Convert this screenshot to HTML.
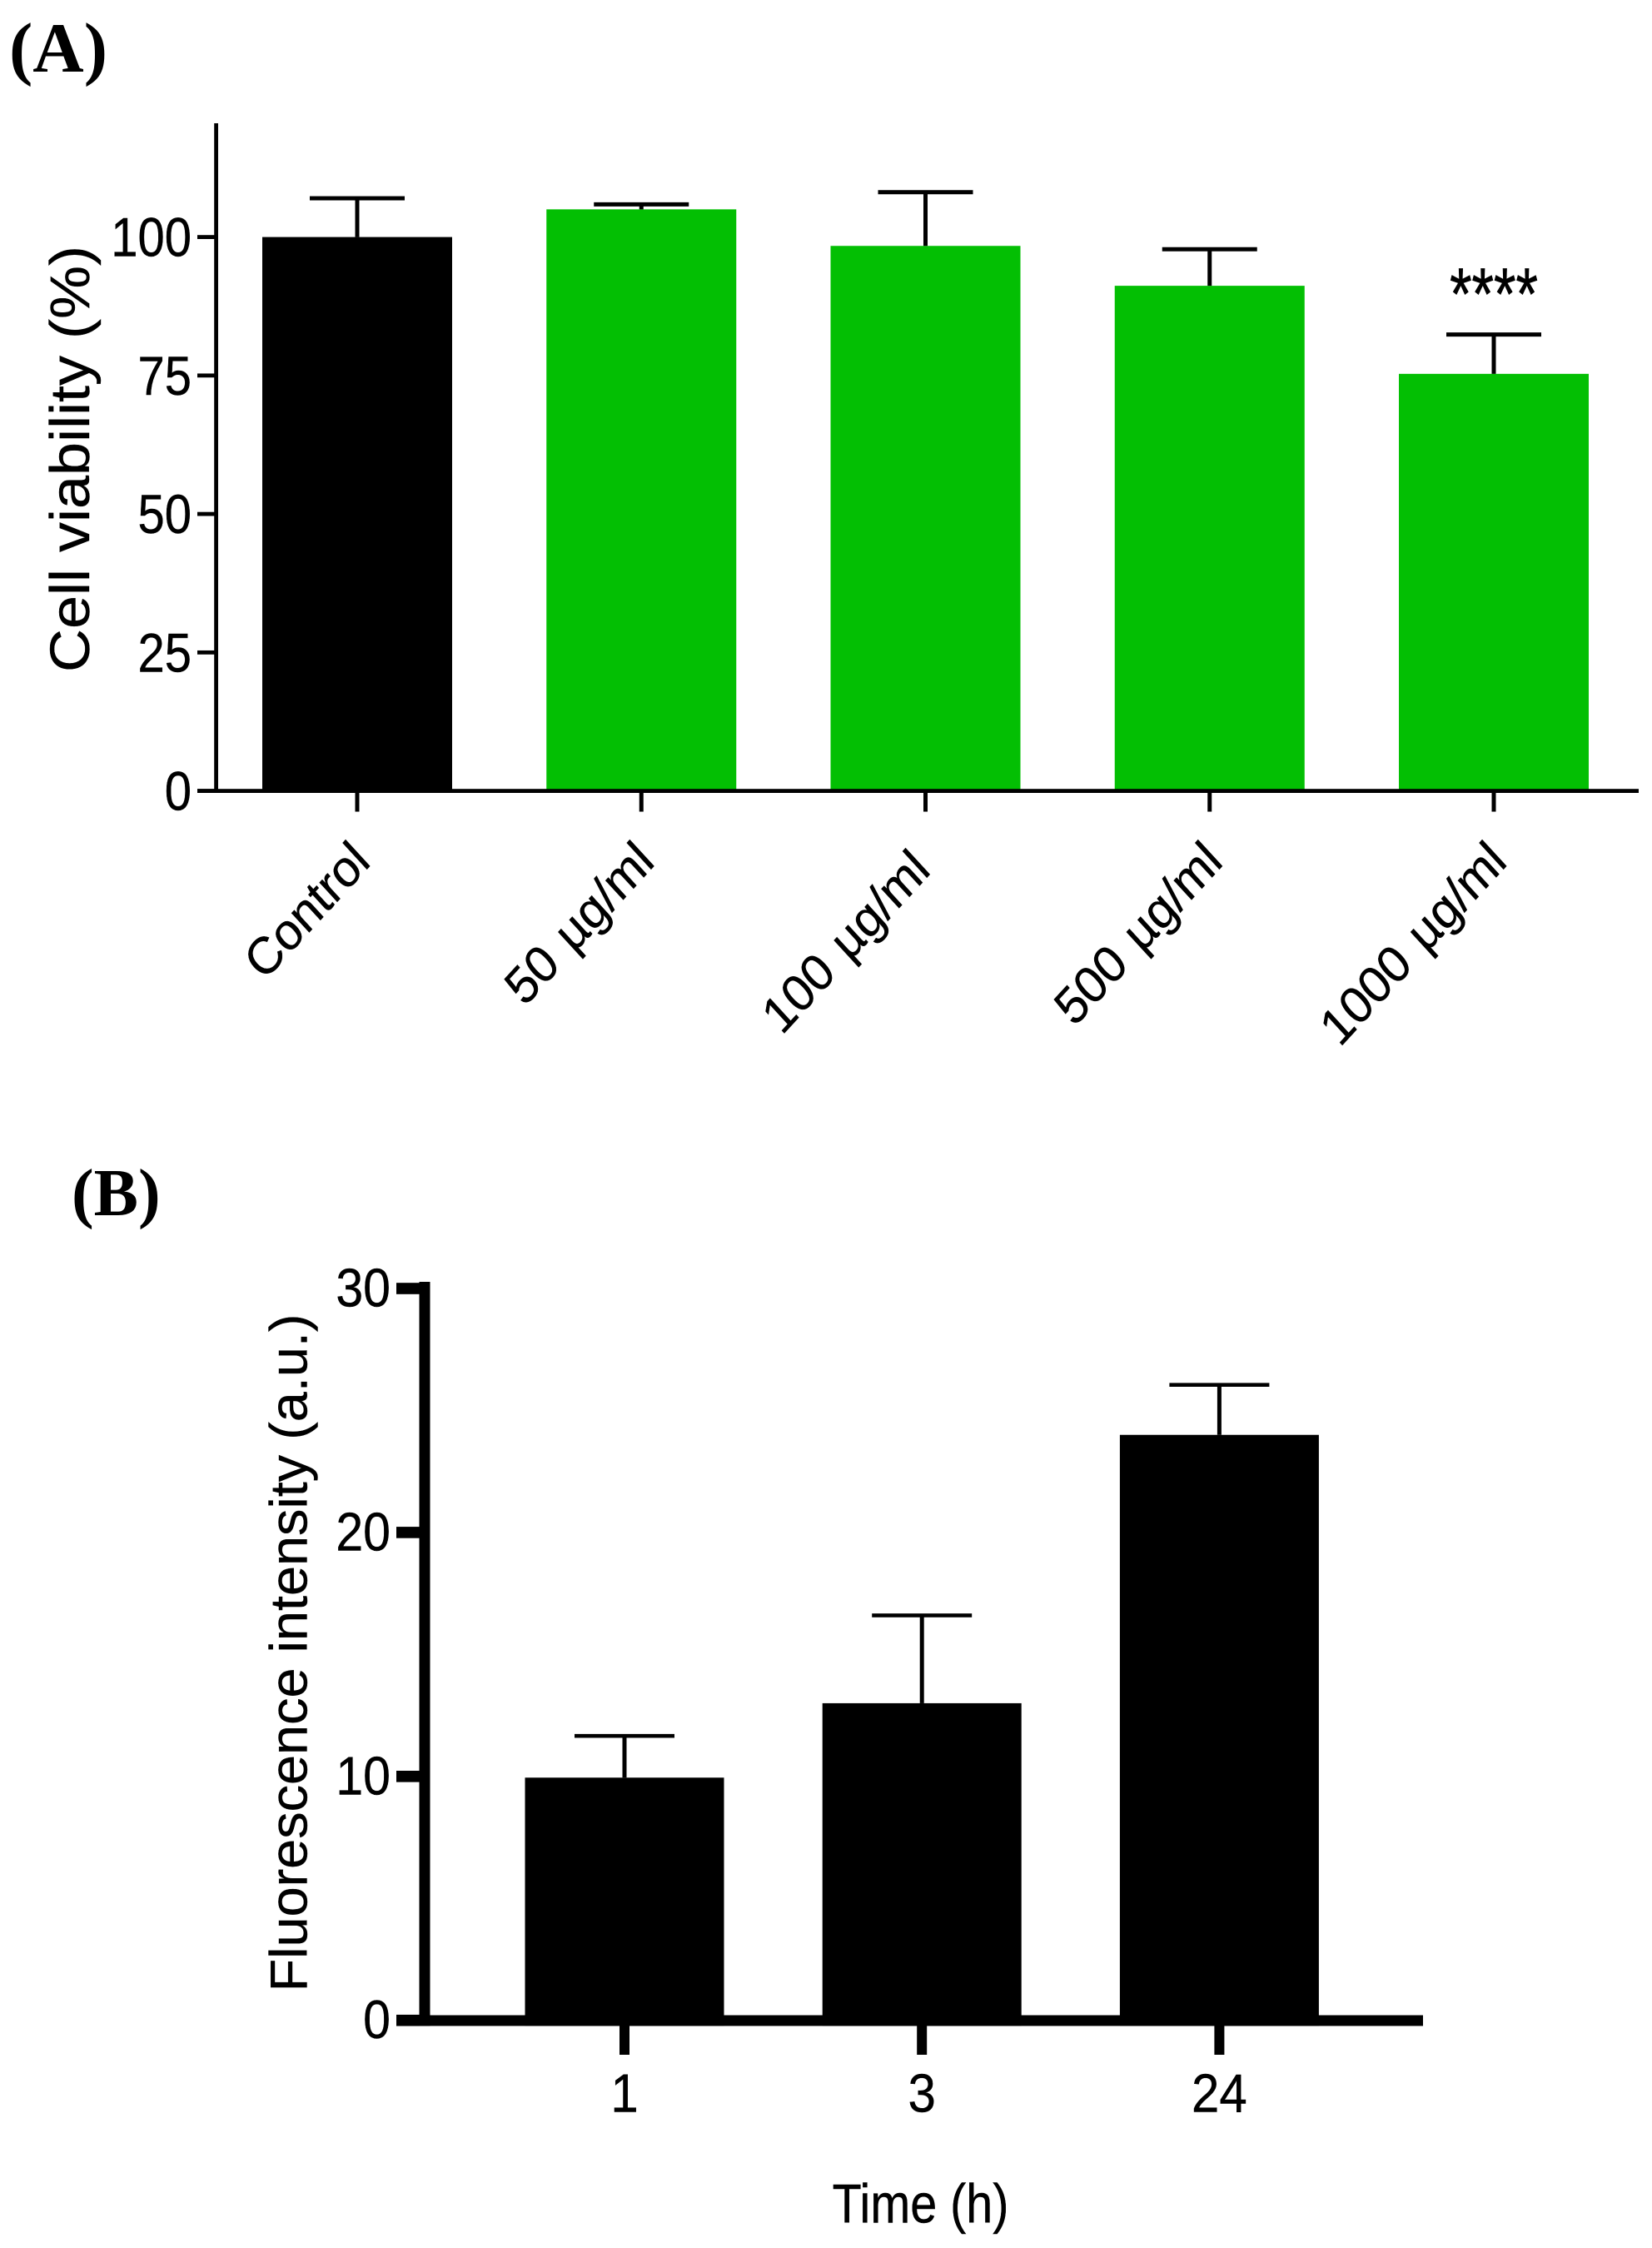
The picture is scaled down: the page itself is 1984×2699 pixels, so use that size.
<!DOCTYPE html>
<html lang="en">
<head>
<meta charset="utf-8">
<title>Cell viability and fluorescence intensity</title>
<style>
html,body{margin:0;padding:0;background:#fff;width:1984px;height:2699px;overflow:hidden}
svg{display:block}
text{font-family:"Liberation Sans",Arial,sans-serif;fill:#000;stroke:#000;stroke-width:0.4px}
.panel{font-family:"Liberation Serif","Times New Roman",serif;font-weight:bold;stroke:none}
</style>
</head>
<body>
<svg id="figure" xmlns="http://www.w3.org/2000/svg" width="1984" height="2699" viewBox="0 0 1984 2699">
  <rect x="0" y="0" width="1984" height="2699" fill="#fff"/>
  <text class="panel" x="11" y="86" font-size="85">(A)</text>
  <text class="panel" x="86" y="1459" font-size="80">(B)</text>
  <g id="chartA"></g>
  <g id="chartB"></g>
</svg>
<script>
// Chart A data
const categoriesA = ['Control', '50 µg/ml', '100 µg/ml', '500 µg/ml', '1000 µg/ml'];
const valuesA = [100, 105, 98.4, 91.2, 75.3];
const errorTopsA = [107, 105.9, 108.1, 97.8, 82.4];
const colorsA = ['#000000', '#03bf03', '#03bf03', '#03bf03', '#03bf03'];
const ticksA = [0, 25, 50, 75, 100];
const significanceA = ['', '', '', '', '****'];
const titleYA = 'Cell viability (%)';

// Chart B data
const categoriesB = ['1', '3', '24'];
const valuesB = [9.95, 13, 24];
const errorTopsB = [11.66, 16.6, 26.05];
const ticksB = [0, 10, 20, 30];
const titleYB = 'Fluorescence intensity (a.u.)';
const titleXB = 'Time (h)';

const NS = 'http://www.w3.org/2000/svg';
function make(parent, tag, attrs, content) {
  const el = document.createElementNS(NS, tag);
  for (const k in attrs) el.setAttribute(k, attrs[k]);
  if (content !== undefined) el.textContent = content;
  parent.appendChild(el);
  return el;
}
function rect(parent, x0, y0, x1, y1, fill) {
  return make(parent, 'rect', {x: x0, y: y0, width: x1 - x0, height: y1 - y0, fill: fill});
}
function label(parent, str, x, y, size, sx, sy, anchor, rot) {
  const t = 'translate(' + x + ' ' + y + ') scale(' + sx + ' ' + sy + ')' + (rot ? ' rotate(' + rot + ')' : '');
  return make(parent, 'text', {transform: t, 'font-size': size, 'text-anchor': anchor}, str);
}

// ---------- Chart A ----------
const gA = document.getElementById('chartA');
const yA = v => 949.6 - 6.65 * v;
const xA = i => 429 + 341.25 * i;

categoriesA.forEach((c, i) => {
  const bar = rect(gA, xA(i) - 114, yA(valuesA[i]), xA(i) + 114, yA(0), colorsA[i]);
  
  
  const stem = rect(gA, xA(i) - 2.5, yA(errorTopsA[i]), xA(i) + 2.5, yA(valuesA[i]), '#000');
  
  
  const cap = rect(gA, xA(i) - 57, yA(errorTopsA[i]) - 2.5, xA(i) + 57, yA(errorTopsA[i]) + 2.5, '#000');
  
  
  const tick = rect(gA, xA(i) - 2.5, yA(0), xA(i) + 2.5, 974.5, '#000');
  
  
  // The third label sits slightly further down its diagonal in the reference.
  const nudge = i === 2 ? 10 : 0;
  const lab = label(gA, c, xA(i) + 18 - nudge, 1037 + nudge, 57, 1, 1.09, 'end', -45);
  lab.setAttribute('word-spacing', '4');
  
  
  if (significanceA[i]) {
    const star = label(gA, significanceA[i], xA(i), 383, 68, 1, 1.3, 'middle');
    star.setAttribute('style', 'stroke-width:0.6px');
    
    
  }
});
const axisYA = rect(gA, 257.2, 148, 262, yA(0) + 2.4, '#000');


const axisXA = rect(gA, 237, yA(0) - 2.4, 1968, yA(0) + 2.4, '#000');


ticksA.forEach((v, i) => {
  const tick = rect(gA, 237, yA(v) - 2.4, 260, yA(v) + 2.4, '#000');
  
  
  const lab = label(gA, String(v), 230, yA(v) + 23, 58, 1, 1.14, 'end');
  
  
});
const titleA = make(gA, 'text', {transform: 'translate(107 551) scale(0.93 1) rotate(-90)', 'font-size': 72, 'text-anchor': 'middle'}, titleYA);



// ---------- Chart B ----------
const gB = document.getElementById('chartB');
const yB = v => 2425.7 - 29.29 * v;
const xB = i => 750 + 357.2 * i;

categoriesB.forEach((c, i) => {
  const bar = rect(gB, xB(i) - 119.5, yB(valuesB[i]), xB(i) + 119.5, yB(0) + 6.5, '#000');
  
  
  const stem = rect(gB, xB(i) - 2.5, yB(errorTopsB[i]), xB(i) + 2.5, yB(valuesB[i]), '#000');
  
  
  const cap = rect(gB, xB(i) - 60, yB(errorTopsB[i]) - 2.3, xB(i) + 60, yB(errorTopsB[i]) + 2.3, '#000');
  
  
  const tick = rect(gB, xB(i) - 6, yB(0), xB(i) + 6, 2467, '#000');
  
  
  const lab = label(gB, c, xB(i), 2535.5, 60, 1, 1.08, 'middle');
  
  
});
const axisYB = rect(gB, 503.5, 1539, 516.5, yB(0) + 6.7, '#000');


const axisXB = rect(gB, 476, yB(0) - 6.2, 1709, yB(0) + 6.7, '#000');


ticksB.forEach((v, i) => {
  const tick = rect(gB, 476, yB(v) - 6.8, 504, yB(v) + 6.8, '#000');
  
  
  const lab = label(gB, String(v), 469, yB(v) + 21.5, 59, 1, 1.1, 'end');
  
  
});
const titleB = make(gB, 'text', {transform: 'translate(368.6 1984.5) scale(0.97 1) rotate(-90)', 'font-size': 64.8, 'text-anchor': 'middle'}, titleYB);


const titleX = label(gB, titleXB, 1105.5, 2668.6, 57.5, 1, 1.15, 'middle');


</script>
</body>
</html>
